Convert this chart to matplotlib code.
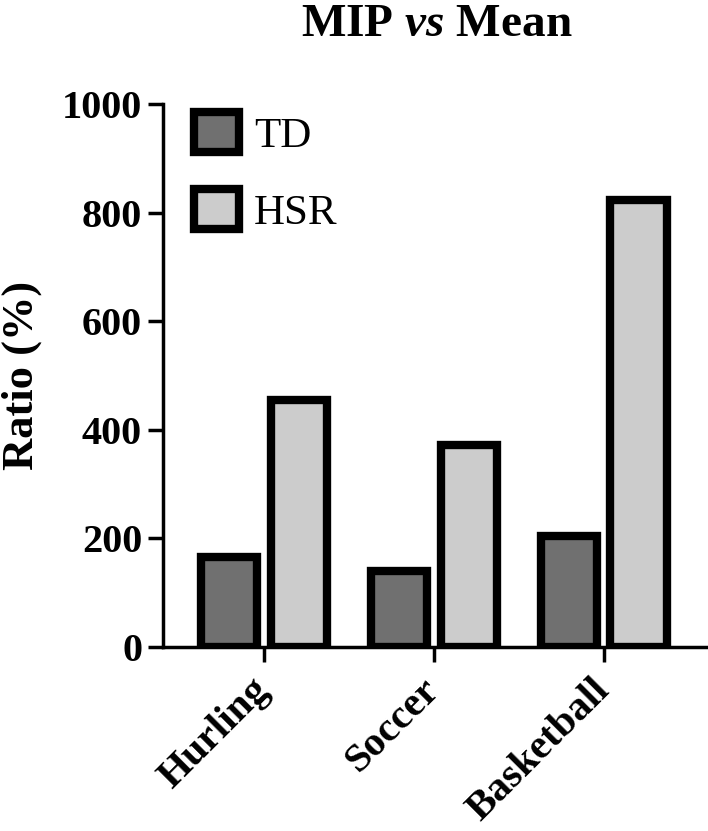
import numpy as np
import matplotlib
matplotlib.use("Agg")
import matplotlib.pyplot as plt
import matplotlib.transforms as mtransforms

plt.rcParams['font.family'] = ['Liberation Serif', 'DejaVu Serif']
plt.rcParams['mathtext.fontset'] = 'custom'
plt.rcParams['mathtext.rm'] = 'Liberation Serif:bold'
plt.rcParams['mathtext.it'] = 'Liberation Serif:italic:bold'
plt.rcParams['mathtext.bf'] = 'Liberation Serif:bold'

# data
sports = ['Hurling', 'Soccer', 'Basketball']
td = [166, 140, 204]
hsr = [455, 372, 824]
series_names = ['TD', 'HSR']
colors = ['#707070', '#cccccc']
yticks = [0, 200, 400, 600, 800, 1000]

fig = plt.figure(figsize=(7.08, 8.31), dpi=100)
ax = fig.add_axes([0.230, 0.2214, 0.769, 0.6534])

x = np.arange(len(sports))
w = 0.33
off = 0.205
b1 = ax.bar(x - off, td, w, color=colors[0], edgecolor='black', linewidth=6, label=series_names[0])
b2 = ax.bar(x + off, hsr, w, color=colors[1], edgecolor='black', linewidth=6, label=series_names[1])

ax.set_xlim(-0.594, 2.61)
ax.set_ylim(0, 1000)
ax.set_yticks(yticks)
ax.set_xticks(x)
ax.set_xticklabels(sports, rotation=45, ha='right', va='center', rotation_mode='anchor',
                   fontsize=29.5, fontweight='bold')
# nudge the rotated labels a little to the right
shift = mtransforms.ScaledTranslation(8 / 100, 0, fig.dpi_scale_trans)
for lab in ax.get_xticklabels():
    lab.set_transform(lab.get_transform() + shift)
for lab in ax.get_yticklabels():
    lab.set_fontsize(29)
    lab.set_fontweight('bold')
ax.tick_params(axis='both', width=2.5, length=11, direction='out')
ax.tick_params(axis='x', pad=16)
ax.tick_params(axis='y', pad=4)

for s in ['top', 'right']:
    ax.spines[s].set_visible(False)
for s in ['left', 'bottom']:
    ax.spines[s].set_linewidth(2.5)

ax.set_ylabel('Ratio (%)', fontsize=32, fontweight='bold', labelpad=14)
fig.text(0.617, 0.957, r'MIP $\mathit{vs}$ Mean', fontsize=34, fontweight='bold',
         ha='center', va='baseline')

leg = ax.legend(loc='upper left', bbox_to_anchor=(0.057, 0.985), frameon=False,
                fontsize=31, handlelength=1.05, handleheight=1.05, handletextpad=0.35,
                labelspacing=0.78, borderpad=0, borderaxespad=0)

fig.savefig('out.png', dpi=100)
